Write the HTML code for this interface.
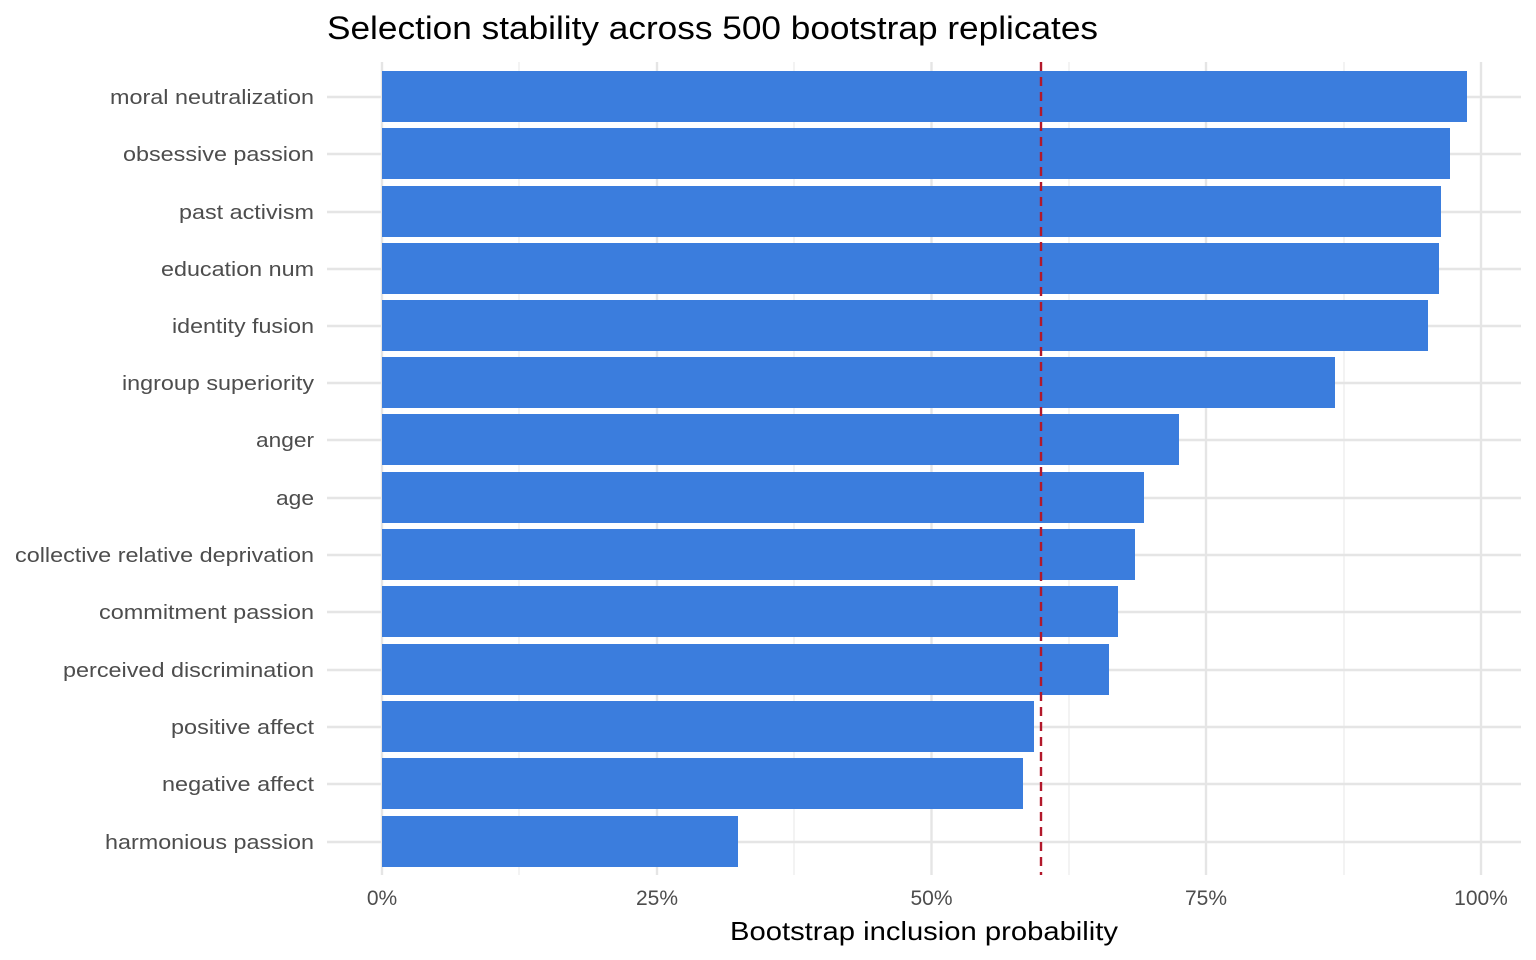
<!DOCTYPE html>
<html><head><meta charset="utf-8"><style>body{margin:0;background:#fff}svg{display:block}</style></head><body>
<svg width="1536" height="960" xmlns="http://www.w3.org/2000/svg" font-family="Liberation Sans, Arial, sans-serif">
<rect width="1536" height="960" fill="#fff"/>
<g stroke="#ebebeb" stroke-width="1.2">
<line x1="519" y1="62" x2="519" y2="875"/><line x1="794" y1="62" x2="794" y2="875"/><line x1="1069" y1="62" x2="1069" y2="875"/><line x1="1344" y1="62" x2="1344" y2="875"/>
</g>
<g stroke="#e5e5e5" stroke-width="2.4">
<line x1="382" y1="62" x2="382" y2="875"/><line x1="657" y1="62" x2="657" y2="875"/><line x1="931.5" y1="62" x2="931.5" y2="875"/><line x1="1206" y1="62" x2="1206" y2="875"/><line x1="1481" y1="62" x2="1481" y2="875"/>
<line x1="327" y1="97" x2="1521" y2="97"/><line x1="327" y1="154" x2="1521" y2="154"/><line x1="327" y1="212" x2="1521" y2="212"/><line x1="327" y1="269" x2="1521" y2="269"/><line x1="327" y1="326" x2="1521" y2="326"/><line x1="327" y1="383" x2="1521" y2="383"/><line x1="327" y1="440" x2="1521" y2="440"/><line x1="327" y1="498" x2="1521" y2="498"/><line x1="327" y1="555" x2="1521" y2="555"/><line x1="327" y1="612" x2="1521" y2="612"/><line x1="327" y1="670" x2="1521" y2="670"/><line x1="327" y1="727" x2="1521" y2="727"/><line x1="327" y1="784" x2="1521" y2="784"/><line x1="327" y1="842" x2="1521" y2="842"/>
</g>
<g fill="#3b7ddd">
<rect x="382" y="71" width="1085" height="51"/>
<rect x="382" y="128" width="1068" height="51"/>
<rect x="382" y="186" width="1059" height="51"/>
<rect x="382" y="243" width="1057" height="51"/>
<rect x="382" y="300" width="1046" height="51"/>
<rect x="382" y="357" width="953" height="51"/>
<rect x="382" y="414" width="797" height="51"/>
<rect x="382" y="472" width="762" height="51"/>
<rect x="382" y="529" width="753" height="51"/>
<rect x="382" y="586" width="736" height="51"/>
<rect x="382" y="644" width="727" height="51"/>
<rect x="382" y="701" width="652" height="51"/>
<rect x="382" y="758" width="641" height="51"/>
<rect x="382" y="816" width="356" height="51"/>
</g>
<line x1="1041" y1="62" x2="1041" y2="875" stroke="#b2182b" stroke-width="2.4" stroke-dasharray="9,6"/>
<g fill="#4d4d4d" font-size="20.5" lengthAdjust="spacingAndGlyphs">
<text x="110" y="104" textLength="204" lengthAdjust="spacingAndGlyphs">moral neutralization</text>
<text x="123" y="161" textLength="191" lengthAdjust="spacingAndGlyphs">obsessive passion</text>
<text x="179" y="219" textLength="135" lengthAdjust="spacingAndGlyphs">past activism</text>
<text x="161" y="276" textLength="153" lengthAdjust="spacingAndGlyphs">education num</text>
<text x="172" y="333" textLength="142" lengthAdjust="spacingAndGlyphs">identity fusion</text>
<text x="122" y="390" textLength="192" lengthAdjust="spacingAndGlyphs">ingroup superiority</text>
<text x="256" y="447" textLength="58" lengthAdjust="spacingAndGlyphs">anger</text>
<text x="276" y="505" textLength="38" lengthAdjust="spacingAndGlyphs">age</text>
<text x="15" y="562" textLength="299" lengthAdjust="spacingAndGlyphs">collective relative deprivation</text>
<text x="99" y="619" textLength="215" lengthAdjust="spacingAndGlyphs">commitment passion</text>
<text x="63" y="677" textLength="251" lengthAdjust="spacingAndGlyphs">perceived discrimination</text>
<text x="171" y="734" textLength="143" lengthAdjust="spacingAndGlyphs">positive affect</text>
<text x="162" y="791" textLength="152" lengthAdjust="spacingAndGlyphs">negative affect</text>
<text x="105" y="849" textLength="209" lengthAdjust="spacingAndGlyphs">harmonious passion</text>
</g>
<g fill="#4d4d4d" font-size="21" text-anchor="middle">
<text x="382" y="905">0%</text><text x="657" y="905">25%</text><text x="931.5" y="905">50%</text><text x="1206" y="905">75%</text><text x="1481" y="905">100%</text>
</g>
<text x="730" y="940" font-size="26" fill="#000" textLength="388" lengthAdjust="spacingAndGlyphs">Bootstrap inclusion probability</text>
<text x="327" y="39" font-size="32" fill="#000" textLength="771" lengthAdjust="spacingAndGlyphs">Selection stability across 500 bootstrap replicates</text>
</svg>
</body></html>
